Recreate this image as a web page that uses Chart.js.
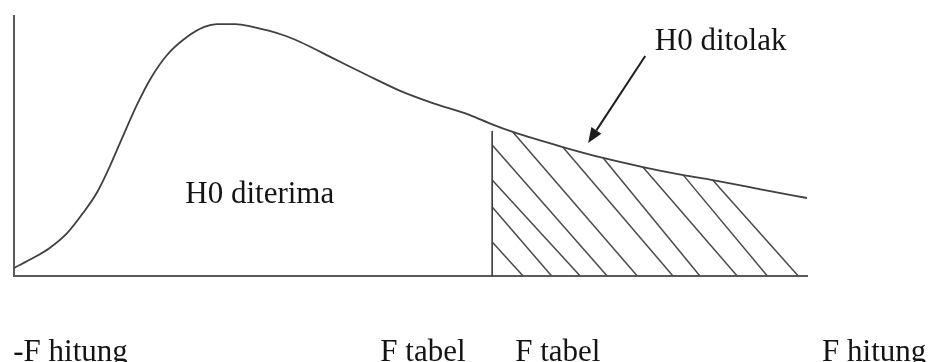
<!DOCTYPE html>
<html>
<head>
<meta charset="utf-8">
<script src="https://cdn.jsdelivr.net/npm/chart.js@4/dist/chart.umd.min.js"></script>
<style>
  body { margin: 0; background: #fff; }
  #wrap { width: 931px; height: 362px; }
</style>
</head>
<body>
<div id="wrap"><canvas id="myChart" width="931" height="362"></canvas></div>
<script>
"use strict";

// curve of the F distribution (axis units 0..100)
const curveX = [0, 2.4, 4.5, 6.7, 8.7, 10.5, 12.1, 13.7, 15.5, 17.2, 19.3, 21.8, 24.0, 25.6, 27.9, 30.1, 33.9, 36.1, 40.2, 44.5, 48.7, 52.8, 57.5, 60.3, 62.9, 69.2, 74.3, 79.3, 84.4, 88.1, 94.5, 100];
const curveY = [3.1, 6.9, 10.8, 16.5, 24.2, 32.3, 42.3, 53.5, 65.8, 75.8, 85.0, 91.9, 95.8, 96.9, 96.9, 95.8, 92.7, 90.0, 83.8, 77.3, 71.2, 66.5, 61.9, 58.3, 55.4, 49.6, 45.4, 41.9, 38.8, 36.9, 33.1, 30.0];

// critical value and the top of its line
const fTabel = 60.3;
const fTabelTop = 55.8;

// hatch strokes of the rejection area: upper end, and where they meet the axis
const hatchTopX = [60.3, 60.3, 60.3, 60.3, 62.9, 69.2, 74.3, 79.3, 84.4, 88.1];
const hatchTopY = [13.1, 26.5, 36.9, 50.4, 55.4, 49.6, 45.4, 41.9, 38.8, 36.9];
const hatchEndX = [64.2, 67.8, 71.4, 74.8, 78.6, 83.1, 86.5, 91.2, 95.0, 98.9];

// labels under the axis (left edge, in axis units)
const tickLabels = ['-F hitung', 'F tabel', 'F tabel', 'F hitung'];
const tickValues = [-0.1, 46.2, 63.2, 101.9];

// text inside the plot
const noteLabels = ['H0 diterima', 'H0 ditolak'];
const noteX = [21.6, 80.8];
const noteY = [28.1, 86.9];

// arrow pointing at the rejection area
const arrowFrom = [79.6, 84.6];
const arrowTo = [72.4, 51.2];

const ink = '#404040';
const font = '31px "Liberation Serif", "Times New Roman", serif';

const textPlugin = {
  id: 'texts',
  afterDraw(chart) {
    const { ctx, chartArea } = chart;
    const xs = chart.scales.x, ys = chart.scales.y;
    ctx.save();

    // arrow
    const x1 = xs.getPixelForValue(arrowFrom[0]), y1 = ys.getPixelForValue(arrowFrom[1]);
    const x2 = xs.getPixelForValue(arrowTo[0]), y2 = ys.getPixelForValue(arrowTo[1]);
    const ang = Math.atan2(y2 - y1, x2 - x1);
    const headLen = 15, headW = 6;
    const bx = x2 - headLen * Math.cos(ang), by = y2 - headLen * Math.sin(ang);
    ctx.strokeStyle = '#1e1e1e';
    ctx.fillStyle = '#1e1e1e';
    ctx.lineWidth = 2;
    ctx.beginPath();
    ctx.moveTo(x1, y1);
    ctx.lineTo(bx, by);
    ctx.stroke();
    ctx.beginPath();
    ctx.moveTo(x2, y2);
    ctx.lineTo(bx + headW * Math.sin(ang), by - headW * Math.cos(ang));
    ctx.lineTo(bx - headW * Math.sin(ang), by + headW * Math.cos(ang));
    ctx.closePath();
    ctx.fill();

    // texts
    ctx.font = font;
    ctx.fillStyle = '#141414';
    ctx.textAlign = 'left';
    ctx.textBaseline = 'alphabetic';
    noteLabels.forEach((t, i) => {
      ctx.fillText(t, xs.getPixelForValue(noteX[i]), ys.getPixelForValue(noteY[i]));
    });
    tickLabels.forEach((t, i) => {
      ctx.fillText(t, xs.getPixelForValue(tickValues[i]), chartArea.bottom + 85);
    });
    ctx.restore();
  }
};

const ctx = document.querySelector('#myChart').getContext('2d');

const hatchSets = hatchTopX.map((x, i) => ({
  data: [{ x, y: hatchTopY[i] }, { x: hatchEndX[i], y: 0 }],
  borderColor: '#4a4a4a',
  borderWidth: 1.5,
  pointRadius: 0,
  fill: false,
}));

const data = {
  datasets: [
    {
      data: curveX.map((x, i) => ({ x, y: curveY[i] })),
      borderColor: ink,
      borderWidth: 1.8,
      pointRadius: 0,
      cubicInterpolationMode: 'monotone',
      fill: false,
    },
    {
      data: [{ x: fTabel, y: 0 }, { x: fTabel, y: fTabelTop }],
      borderColor: ink,
      borderWidth: 1.7,
      pointRadius: 0,
      fill: false,
    },
    ...hatchSets,
  ]
};

const axis = {
  type: 'linear',
  min: 0,
  max: 100,
  grid: { display: false, drawTicks: false },
  ticks: { display: false },
  border: { display: true, color: '#5a5a5a', width: 2 },
};

const config = {
  type: 'line',
  data: data,
  options: {
    responsive: false,
    animation: false,
    layout: { padding: { left: 14, top: 16, right: 124, bottom: 86 } },
    plugins: {
      legend: { display: false },
      tooltip: { enabled: false },
    },
    scales: {
      x: axis,
      y: Object.assign({}, axis),
    }
  },
  plugins: [textPlugin]
};

const myChart = new Chart(ctx, config);
</script>
</body>
</html>
